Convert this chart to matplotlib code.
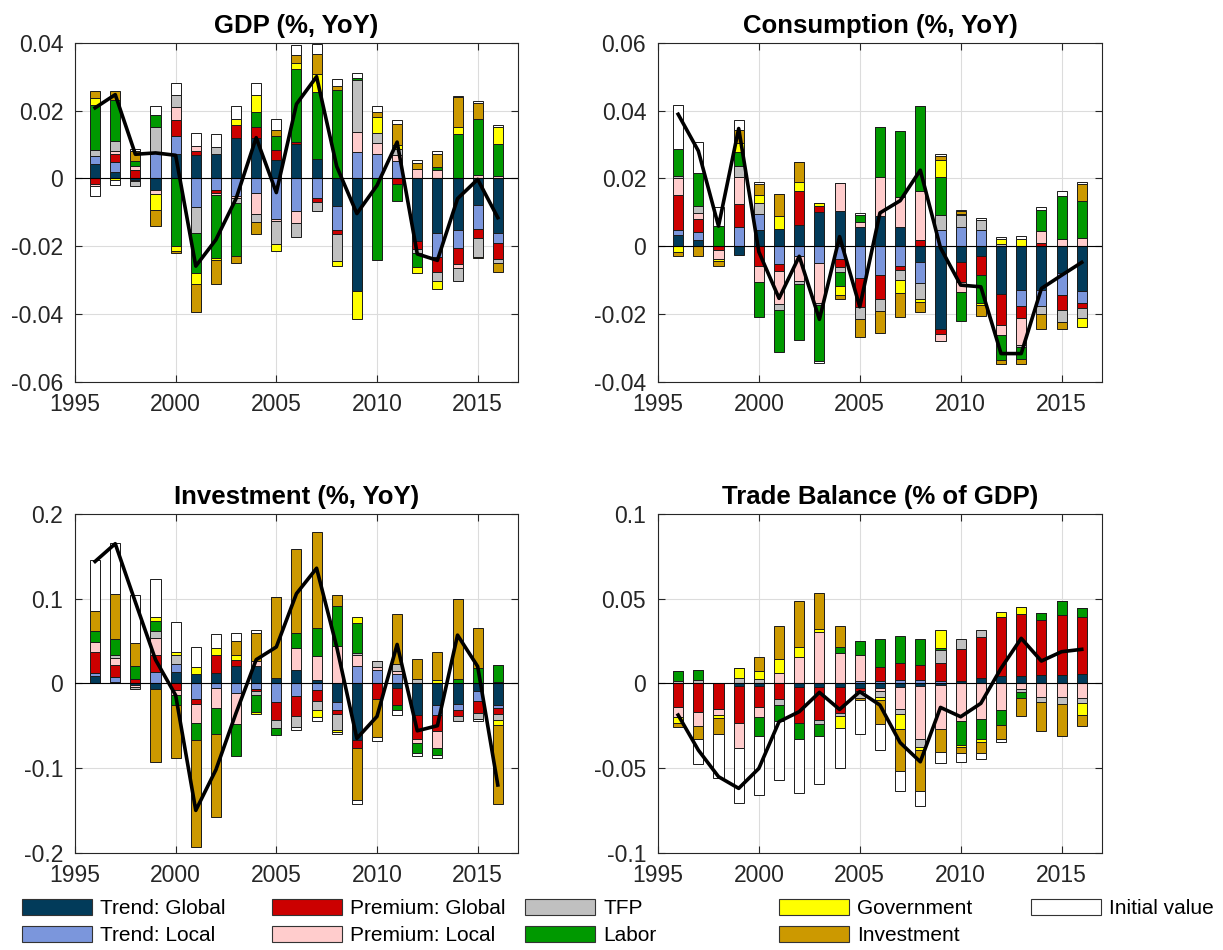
import numpy as np
import matplotlib
matplotlib.use("Agg")
import matplotlib.pyplot as plt
from matplotlib.patches import Patch
from matplotlib.ticker import FuncFormatter

plt.rcParams["font.family"] = ["Liberation Sans", "DejaVu Sans"]

YEARS = list(range(1996, 2017))

COMPONENTS = ["Trend: Global", "Trend: Local", "Premium: Global", "Premium: Local",
              "TFP", "Labor", "Government", "Investment", "Initial value"]
COLORS = ["#023b5a", "#7b96dc", "#cc0000", "#ffcccc", "#c0c0c0",
          "#009900", "#ffff00", "#cc9900", "#ffffff"]

# ---- GDP (%, YoY), values in units of 0.001
gdp_unit = 1e-3
gdp_trend_global = [4.3, 1.9, -0.6, -3.5, 7.1, 7.0, 7.1, 12.0, 12.0, 5.3, 10.2, 5.6, -8.3, -33.3, 0.0, 0.0, -18.5, -16.2, -15.2, -8.0, -16.1]
gdp_trend_local = [2.3, 3.0, -0.3, 7.8, 5.5, -8.5, -3.5, -5.3, -4.3, -11.9, -9.7, -5.7, -6.9, 7.8, 7.3, 5.0, 0.0, -7.1, -5.3, -6.9, -3.0]
gdp_prem_global = [-1.6, 2.3, 2.4, 0.0, 4.7, 1.0, -0.7, 3.7, 3.2, 3.2, 0.5, -1.3, -1.2, 0.0, 0.0, -1.8, -2.3, -4.4, -4.7, -2.7, -4.6]
gdp_prem_local = [-0.7, 0.8, 1.2, -1.2, 3.7, 1.4, -0.8, -0.6, -6.3, -0.7, -3.5, 0.0, 0.0, 5.9, 3.2, 2.0, 2.9, 2.6, -1.2, 1.0, 0.7]
gdp_tfp = [1.9, 3.1, -1.3, 7.2, 3.7, -7.7, 2.0, -1.5, -2.3, -6.7, -4.1, -2.7, -7.9, 15.3, 2.8, 1.6, -1.3, -2.7, -3.9, -5.5, -1.3]
gdp_labor = [13.1, 11.9, 1.5, 3.8, -20.1, -11.7, -18.4, -15.6, 4.4, 4.1, 21.7, 19.9, 26.0, 0.5, -24.0, -4.9, -4.1, 0.8, 13.0, 16.4, 9.3]
gdp_gov = [2.2, -0.6, 0.0, -4.6, -1.2, -3.4, -0.8, 1.7, 4.9, -2.2, 1.5, 5.4, -1.7, -8.2, 4.9, 1.2, -1.7, -2.3, 2.2, -0.5, 5.2]
gdp_inv = [1.9, 2.8, 3.0, -4.7, -0.8, -8.2, -7.1, -1.9, -3.6, 1.6, 2.5, 5.9, 1.2, 0.0, 1.5, 6.1, 1.5, 3.9, 8.9, 4.9, -2.5]
gdp_init = [-2.8, -1.3, 0.6, 2.5, 3.4, 3.9, 4.1, 3.8, 3.7, 3.2, 3.0, 2.7, 2.1, 1.7, 1.5, 1.3, 1.0, 0.8, 0.3, 0.6, 0.4]
gdp_total = [20.8, 24.7, 7.1, 7.5, 6.8, -25.9, -18.1, -6.0, 12.0, -4.2, 21.9, 30.0, 3.5, -10.4, -2.1, 10.7, -22.3, -24.2, -6.0, -0.3, -11.6]

# ---- Consumption (%, YoY), values in units of 0.001
con_unit = 1e-3
con_trend_global = [3.3, 1.8, 0.0, -2.7, 4.7, 5.2, 6.2, 10.0, 10.3, 5.7, 8.8, 5.5, -4.8, -24.5, -4.6, -2.8, -14.0, -13.0, -13.0, -7.8, -13.3]
con_trend_local = [1.6, 2.3, 0.0, 5.7, 4.9, -5.4, -2.8, -4.9, -3.9, -9.5, -8.4, -5.9, -6.2, 4.9, 5.5, 4.7, 0.0, -4.7, -4.7, -6.5, -3.4]
con_prem_global = [10.2, 3.8, -1.0, 6.7, -5.9, -1.9, 10.1, 1.8, -2.2, -8.6, -7.1, -1.2, 1.8, -1.5, -5.9, -5.8, -9.3, -3.6, 0.8, -4.4, -1.5]
con_prem_local = [5.0, 1.8, -2.7, 8.1, -4.8, -9.8, -7.5, -11.8, 8.4, 1.5, 11.6, 9.0, 14.6, -2.0, -2.9, 0.0, -2.9, -7.9, 3.6, 2.0, 2.3]
con_tfp = [0.5, 2.0, 0.0, 3.2, 3.1, -1.6, -0.8, -0.8, -1.5, -3.5, -3.6, -2.8, -4.7, 4.4, 3.6, 2.9, 0.5, -0.7, -2.4, -3.6, -2.9]
con_labor = [8.0, 10.0, 5.9, 4.1, -10.3, -12.5, -16.7, -16.3, -4.2, 2.0, 14.6, 19.5, 25.0, 11.1, -8.8, -8.2, -7.4, -3.5, 6.2, 12.8, 11.1]
con_gov = [-1.7, 0.0, -0.7, 2.5, 2.3, 3.6, 2.7, 1.0, -2.7, 0.0, 0.0, -3.9, -0.7, 5.1, 0.3, -0.7, 1.5, 2.1, 0.0, 0.0, -2.8]
con_inv = [-1.1, -2.9, -1.6, 4.1, 3.2, 6.5, 5.8, 0.0, -1.0, -5.1, -6.5, -7.1, -2.9, 1.2, 0.9, -3.2, -1.2, -1.4, -4.4, -2.2, 4.9]
con_init = [13.1, 9.1, 5.6, 2.8, 0.7, 0.0, 0.0, -0.8, 0.0, 0.5, 0.0, 0.0, 0.0, 0.6, 0.5, 0.8, 0.8, 1.0, 1.0, 1.4, 0.7]
con_total = [38.9, 28.1, 5.9, 34.7, -1.7, -15.4, -3.0, -21.6, 2.8, -17.9, 9.8, 13.4, 22.4, -0.5, -11.5, -12.0, -31.7, -31.7, -12.5, -8.6, -4.8]

# ---- Investment (%, YoY), values in units of 0.01
inv_unit = 1e-2
inv_trend_global = [0.9, 0.2, -0.2, -0.7, 1.4, 1.1, 1.2, 2.1, 2.0, 0.6, 1.6, 0.4, -2.2, -6.7, 0.0, -0.5, -3.7, -2.6, -2.4, -0.9, -2.6]
inv_trend_local = [0.35, 0.5, 0.0, 1.4, 0.9, -1.9, -0.5, -1.1, -0.7, -2.2, -1.5, -0.8, -1.0, 2.0, 1.6, 1.1, 0.0, -1.1, -0.8, -1.2, -0.3]
inv_prem_global = [2.4, 1.5, 0.5, 2.0, -0.8, -0.5, 2.2, 0.7, -0.2, -2.1, -2.4, -1.3, -0.4, -0.9, -1.8, -2.0, -2.9, -1.9, -0.6, -1.4, -0.7]
inv_prem_local = [1.2, 0.8, -0.2, 2.0, -0.6, -2.3, -2.4, -3.7, 0.6, 0.0, 2.6, 2.8, 4.4, 1.3, 0.3, 0.4, -0.5, -2.0, 0.0, 0.0, 0.2]
inv_tfp = [0.0, 0.4, -0.3, 0.8, 1.0, 0.0, 0.0, 0.0, -0.5, -1.0, -1.2, -1.0, -1.9, 0.3, 0.7, 0.8, 0.5, 0.0, -0.6, -0.7, -0.7]
inv_labor = [1.3, 1.8, 1.5, 1.2, -1.2, -2.0, -3.1, -3.8, -2.0, -0.8, 1.8, 3.3, 4.7, 3.5, 0.0, -0.6, -1.1, -0.9, 0.5, 1.8, 2.0]
inv_gov = [0.0, 0.0, 0.0, 0.4, 0.4, 0.8, 0.8, 0.5, -0.2, 0.0, 0.0, -0.9, -0.2, 0.7, 0.0, 0.0, 0.0, 0.4, 0.0, 0.0, -0.6]
inv_inv = [2.4, 5.3, 2.8, -8.6, -6.2, -12.6, -9.8, 1.7, 3.4, 9.6, 9.9, 11.4, 1.3, -6.2, -4.5, 5.9, 2.4, 3.3, 9.5, 4.7, -9.4]
inv_init = [6.0, 6.1, 5.6, 4.5, 3.5, 2.4, 1.6, 0.9, 0.3, 0.0, -0.4, -0.4, -0.3, -0.5, -0.5, -0.6, -0.4, -0.3, 0.0, -0.3, 0.0]
inv_total = [14.4, 16.5, 9.6, 2.8, -1.4, -15.0, -10.2, -3.5, 2.8, 4.3, 10.6, 13.6, 4.3, -6.5, -3.9, 4.6, -5.6, -5.0, 5.7, 2.0, -12.0]

# ---- Trade Balance (% of GDP), values in units of 0.001
tb_unit = 1e-3
tb_trend_global = [0.0, 0.0, 0.2, -1.4, -1.6, 0.0, -2.0, -2.0, -2.4, -3.0, -3.0, -2.4, -1.6, -1.0, 1.4, 3.3, 4.3, 4.5, 4.9, 4.9, 5.5]
tb_trend_local = [0.0, 0.0, 0.0, 0.0, 0.0, 0.0, 0.0, 0.0, 0.0, 1.6, 1.6, 2.0, 2.0, 1.5, 0.0, 0.0, 0.0, 0.0, 0.0, 0.0, 0.0]
tb_prem_global = [-14.2, -17.1, -15.2, -22.2, -12.2, -9.4, -21.3, -19.7, -14.8, -1.4, 8.3, 10.2, 8.9, 10.8, 18.7, 24.2, 35.0, 36.2, 32.5, 35.4, 33.5]
tb_prem_local = [-5.9, -7.9, -3.5, -14.4, -6.3, 6.3, 15.4, 30.1, 17.7, 15.2, -1.4, -13.0, -31.5, -26.2, -22.0, -21.3, -15.7, -3.5, -7.9, -7.9, -8.9]
tb_tfp = [1.6, 2.0, 0.0, 3.0, 2.6, -3.3, 0.0, -2.0, -2.2, -4.5, -3.9, -2.4, -4.3, 7.3, 5.9, 4.3, 0.0, -1.4, -3.3, -4.3, -2.6]
tb_labor = [5.9, 5.9, 0.0, 0.0, -11.0, -9.8, -9.8, -7.5, 3.9, 8.5, 16.1, 15.7, 15.2, 1.2, -14.4, -11.8, -8.9, -3.9, 3.9, 8.5, 5.7]
tb_gov = [-3.5, 0.0, -2.0, 5.9, 4.9, 7.9, 5.9, 1.8, -6.7, 0.0, -1.6, -9.4, -2.0, 10.6, -1.4, -1.8, 2.6, 4.5, 0.0, 0.0, -7.3]
tb_inv = [-2.4, -7.9, -9.4, 0.0, 8.3, 19.7, 27.6, 21.7, 12.2, -1.0, -14.2, -24.4, -24.0, -13.2, -3.5, -6.5, -8.5, -10.4, -16.7, -18.9, -6.5]
tb_init = [0.0, -15.0, -26.0, -32.5, -34.8, -34.4, -31.9, -28.3, -23.6, -19.7, -15.4, -12.0, -9.1, -6.9, -4.9, -3.0, -1.8, 0.0, 0.0, 0.0, 0.0]
tb_total = [-18.7, -39.4, -55.1, -62.0, -50.2, -22.6, -16.7, -5.3, -15.4, -4.9, -12.8, -35.0, -46.3, -14.2, -19.7, -11.8, 8.9, 26.6, 13.2, 18.7, 20.1]

EDGE = "#1a1a1a"
AXCOL = "#262626"


def _fmt(v, _pos):
    if abs(v) < 1e-12:
        return "0"
    return f"{v:g}"


def draw_panel(ax, parts, total, unit, title, ylim, ystep):
    x = np.array(YEARS)
    pos = np.zeros(len(x))
    neg = np.zeros(len(x))
    for vals, col in zip(parts, COLORS):
        v = np.array(vals) * unit
        base = np.where(v >= 0, pos, neg)
        ax.bar(x, v, 0.5, bottom=base, color=col, edgecolor=EDGE, linewidth=0.7, zorder=2)
        pos += np.clip(v, 0, None)
        neg += np.clip(v, None, 0)

    ax.axhline(0, color="black", linewidth=0.8, zorder=3)
    ax.plot(x, np.array(total) * unit, color="black", linewidth=2.6, zorder=4)

    ax.set_xlim(1995, 2017)
    ax.set_ylim(*ylim)
    ax.set_xticks([1995, 2000, 2005, 2010, 2015])
    ax.set_yticks(np.round(np.arange(ylim[0], ylim[1] + ystep / 2, ystep), 6))
    ax.yaxis.set_major_formatter(FuncFormatter(_fmt))
    ax.grid(True, color="#dcdcdc", linewidth=0.8, zorder=0)
    ax.set_axisbelow(True)
    ax.tick_params(direction="in", top=True, right=True, length=5, width=0.8,
                   colors=AXCOL, labelsize=16.5)
    ax.tick_params(axis="x", pad=8)
    ax.tick_params(axis="y", pad=8.5)
    for sp in ax.spines.values():
        sp.set_color(AXCOL)
        sp.set_linewidth(0.8)
    ax.set_title(title, fontsize=18.5, fontweight="bold", pad=7)


fig = plt.figure(figsize=(12.23, 9.5), dpi=100)

ax_gdp = fig.add_axes([0.0613, 0.5982, 0.3622, 0.3568])
ax_con = fig.add_axes([0.5380, 0.5982, 0.3630, 0.3568])
ax_inv = fig.add_axes([0.0613, 0.1024, 0.3622, 0.3565])
ax_tb = fig.add_axes([0.5380, 0.1024, 0.3630, 0.3565])

draw_panel(ax_gdp,
           [gdp_trend_global, gdp_trend_local, gdp_prem_global, gdp_prem_local, gdp_tfp,
            gdp_labor, gdp_gov, gdp_inv, gdp_init],
           gdp_total, gdp_unit, "GDP (%, YoY)", (-0.06, 0.04), 0.02)
draw_panel(ax_con,
           [con_trend_global, con_trend_local, con_prem_global, con_prem_local, con_tfp,
            con_labor, con_gov, con_inv, con_init],
           con_total, con_unit, "Consumption (%, YoY)", (-0.04, 0.06), 0.02)
draw_panel(ax_inv,
           [inv_trend_global, inv_trend_local, inv_prem_global, inv_prem_local, inv_tfp,
            inv_labor, inv_gov, inv_inv, inv_init],
           inv_total, inv_unit, "Investment (%, YoY)", (-0.2, 0.2), 0.1)
draw_panel(ax_tb,
           [tb_trend_global, tb_trend_local, tb_prem_global, tb_prem_local, tb_tfp,
            tb_labor, tb_gov, tb_inv, tb_init],
           tb_total, tb_unit, "Trade Balance (% of GDP)", (-0.1, 0.1), 0.05)

# legend: 5 columns x 2 rows, placed one column at a time
handles = [Patch(facecolor=c, edgecolor="#333333", linewidth=0.8) for c in COLORS]
col_x = [22, 272, 525, 779, 1031]
for j, xpix in enumerate(col_x):
    hs = handles[2 * j:2 * j + 2]
    ls = COMPONENTS[2 * j:2 * j + 2]
    fig.legend(hs, ls, loc="upper left", bbox_to_anchor=(xpix / 1223, 1 - 899 / 950),
               frameon=False, fontsize=15, borderpad=0, borderaxespad=0,
               handlelength=3.35, handleheight=0.82, handletextpad=0.4,
               labelspacing=0.35)

fig.savefig("out.png", dpi=100)
